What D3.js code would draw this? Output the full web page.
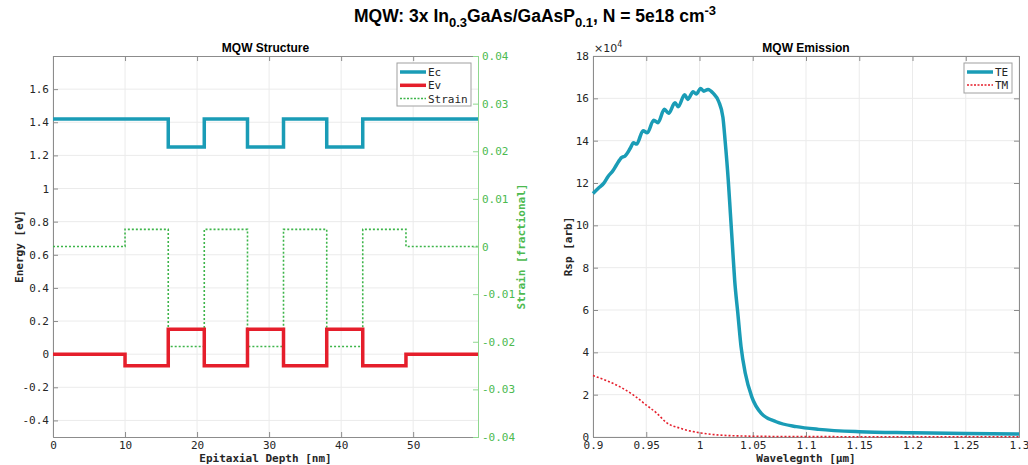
<!DOCTYPE html>
<html>
<head>
<meta charset="utf-8">
<script src="https://cdn.jsdelivr.net/npm/d3@7"></script>
<style>
    body { margin: 0; background: #fff; }
    svg text { font-family: "DejaVu Sans Mono", monospace; }
</style>
</head>
<body>
<div class="data_figure"></div>
<script>
// layer structure (nm) and band / strain values per layer
const layerEdges = [0, 10, 16, 21, 27, 32, 38, 43, 49, 59];
const ecVals = [1.42, 1.42, 1.25, 1.42, 1.25, 1.42, 1.25, 1.42, 1.42];
const evVals = [0, -0.07, 0.15, -0.07, 0.15, -0.07, 0.15, -0.07, 0];
const strainVals = [0, 0.0036, -0.021, 0.0036, -0.021, 0.0036, -0.021, 0.0036, 0];

// emission spectra (x1e4)
const teLambda = [0.9, 0.905, 0.91, 0.914, 0.919, 0.922, 0.927, 0.930, 0.935, 0.938, 0.941, 0.947, 0.951,
    0.957, 0.961, 0.967, 0.971, 0.977, 0.980, 0.986, 0.989, 0.994, 0.997, 1.001, 1.004, 1.008, 1.013,
    1.018, 1.022, 1.024, 1.027, 1.029, 1.031, 1.033, 1.036, 1.039, 1.043, 1.049, 1.058, 1.072, 1.091,
    1.112, 1.15, 1.2, 1.25, 1.3];
const teVals = [11.5, 11.75, 11.98, 12.3, 12.6, 12.85, 13.21, 13.27, 13.64, 13.9, 13.84, 14.47, 14.37,
    14.97, 14.85, 15.48, 15.29, 15.79, 15.6, 16.17, 15.95, 16.31, 16.2, 16.47, 16.34, 16.42, 16.23,
    15.85, 15.1, 14.03, 12.14, 10.57, 8.99, 7.42, 5.84, 4.27, 3.01, 1.91, 1.12, 0.72, 0.49,
    0.36, 0.25, 0.2, 0.16, 0.14];
const tmLambda = [0.9, 0.913, 0.925, 0.938, 0.95, 0.96, 0.969, 0.982, 1.0, 1.019, 1.038, 1.06, 1.1, 1.2, 1.3];
const tmVals = [2.9, 2.66, 2.38, 1.98, 1.51, 1.12, 0.68, 0.41, 0.2, 0.09, 0.05, 0.03, 0.02, 0.01, 0.01];

const energyTicks = [-0.4, -0.2, 0, 0.2, 0.4, 0.6, 0.8, 1, 1.2, 1.4, 1.6];
const strainTicks = [-0.04, -0.03, -0.02, -0.01, 0, 0.01, 0.02, 0.03, 0.04];
const depthTicks = [0, 10, 20, 30, 40, 50];
const lambdaTicks = [0.9, 0.95, 1, 1.05, 1.1, 1.15, 1.2, 1.25, 1.3];
const rspTicks = [0, 2, 4, 6, 8, 10, 12, 14, 16, 18];

const widthMax = 1028, heightMax = 465;
const plotTop = 56, plotBottom = 437;
const leftP = { x0: 53, x1: 478 };
const rightP = { x0: 593, x1: 1019 };

const cTeal = "#1a9cb6", cRed = "#e51e2b", cGreen = "#3db54a";
const cAxis = "#8c8c8c", cGrid = "#ebebeb", cText = "#262626", cGreenAxis = "#8fd88f";

const svg = d3.select(".data_figure").append("svg")
    .attr("width", widthMax).attr("height", heightMax);

// main title
const title = svg.append("text")
    .attr("x", 535).attr("y", 22)
    .attr("text-anchor", "middle")
    .style("font-family", "'Liberation Sans', Arial, sans-serif")
    .style("font-weight", "bold").style("font-size", "17.5px").attr("fill", "#000");
title.append("tspan").text("MQW: 3x In");
title.append("tspan").text("0.3").attr("dy", 5).style("font-size", "13px");
title.append("tspan").text("GaAs/GaAsP").attr("dy", -5);
title.append("tspan").text("0.1").attr("dy", 5).style("font-size", "13px");
title.append("tspan").text(", N = 5e18 cm").attr("dy", -5);
title.append("tspan").text("-3").attr("dy", -7).style("font-size", "13px");

function drawFrame(g, xS, yS, xTicks, yTicks, xFmt, yFmt, rightAxis) {
    const [x0, x1] = xS.range();
    // grid
    g.append("g").selectAll("line").data(xTicks).enter().append("line")
        .attr("x1", d => xS(d)).attr("x2", d => xS(d))
        .attr("y1", plotTop).attr("y2", plotBottom)
        .attr("stroke", cGrid);
    g.append("g").selectAll("line").data(yTicks).enter().append("line")
        .attr("x1", x0).attr("x2", x1)
        .attr("y1", d => yS(d)).attr("y2", d => yS(d))
        .attr("stroke", cGrid);

    const ax = g.append("g").attr("class", "axes");
    const bottom = ax.append("g").attr("transform", "translate(0," + plotBottom + ")")
        .call(d3.axisBottom(xS).tickValues(xTicks).tickFormat(xFmt).tickSize(-5).tickPadding(4));
    const top = ax.append("g").attr("transform", "translate(0," + plotTop + ")")
        .call(d3.axisTop(xS).tickValues(xTicks).tickFormat("").tickSize(-5));
    const left = ax.append("g").attr("transform", "translate(" + x0 + ",0)")
        .call(d3.axisLeft(yS).tickValues(yTicks).tickFormat(yFmt).tickSize(-5).tickPadding(4));
    [bottom, top, left].forEach(a => {
        a.select(".domain").attr("stroke", cAxis);
        a.selectAll(".tick line").attr("stroke", cAxis);
        a.selectAll("text").attr("fill", cText).style("font-size", "11px");
    });
    if (rightAxis) {
        const right = ax.append("g").attr("transform", "translate(" + x1 + ",0)")
            .call(d3.axisRight(yS).tickValues(yTicks).tickFormat("").tickSize(-5));
        right.select(".domain").attr("stroke", cAxis);
        right.selectAll(".tick line").attr("stroke", cAxis);
    }
}

const fmt = d => String(d);

// ---------- left: structure ----------
const gL = svg.append("g");
const xDepth = d3.scaleLinear().domain([0, 59]).range([leftP.x0, leftP.x1]);
const yEnergy = d3.scaleLinear().domain([-0.5, 1.8]).range([plotBottom, plotTop]);
const yStrain = d3.scaleLinear().domain([-0.04, 0.04]).range([plotBottom, plotTop]);

drawFrame(gL, xDepth, yEnergy, depthTicks, energyTicks, fmt, fmt, false);

function stepPoints(vals) {
    const pts = vals.map((v, i) => [layerEdges[i], v]);
    pts.push([layerEdges[layerEdges.length - 1], vals[vals.length - 1]]);
    return pts;
}

const strainLine = d3.line().x(d => xDepth(d[0])).y(d => yStrain(d[1])).curve(d3.curveStepAfter);
const energyLine = d3.line().x(d => xDepth(d[0])).y(d => yEnergy(d[1])).curve(d3.curveStepAfter);

gL.append("path").attr("d", strainLine(stepPoints(strainVals)))
    .attr("fill", "none").attr("stroke", cGreen).attr("stroke-width", 1.6)
    .attr("stroke-dasharray", "2,2");
gL.append("path").attr("d", energyLine(stepPoints(ecVals)))
    .attr("fill", "none").attr("stroke", cTeal).attr("stroke-width", 3.5);
gL.append("path").attr("d", energyLine(stepPoints(evVals)))
    .attr("fill", "none").attr("stroke", cRed).attr("stroke-width", 3.5);

// strain axis (right, green)
const sAx = gL.append("g").attr("transform", "translate(" + leftP.x1 + ",0)")
    .call(d3.axisRight(yStrain).tickValues(strainTicks).tickFormat(fmt).tickSize(-5).tickPadding(4));
sAx.select(".domain").attr("stroke", cGreenAxis);
sAx.selectAll(".tick line").attr("stroke", cGreenAxis);
sAx.selectAll("text").attr("fill", "#4cba50").style("font-size", "11px");

gL.append("text").text("MQW Structure")
    .attr("x", (leftP.x0 + leftP.x1) / 2).attr("y", 52).attr("text-anchor", "middle")
    .style("font-family", "'Liberation Sans', Arial, sans-serif")
    .style("font-weight", "bold").style("font-size", "12px").attr("fill", "#000");
gL.append("text").text("Epitaxial Depth [nm]")
    .attr("x", (leftP.x0 + leftP.x1) / 2).attr("y", 462).attr("text-anchor", "middle")
    .style("font-weight", "bold").style("font-size", "11px").attr("fill", cText);
gL.append("text").text("Energy [eV]")
    .attr("transform", "translate(23," + (plotTop + plotBottom) / 2 + ") rotate(-90)")
    .attr("text-anchor", "middle")
    .style("font-weight", "bold").style("font-size", "11px").attr("fill", cText);
gL.append("text").text("Strain [fractional]")
    .attr("transform", "translate(525," + (plotTop + plotBottom) / 2 + ") rotate(-90)")
    .attr("text-anchor", "middle")
    .style("font-weight", "bold").style("font-size", "11px").attr("fill", "#4cba50");

// left legend
const legL = gL.append("g").attr("transform", "translate(397,63)");
legL.append("rect").attr("width", 74).attr("height", 43)
    .attr("fill", "#fff").attr("stroke", "#a0a0a0");
const legLItems = [
    { name: "Ec", color: cTeal, w: 3.5, dash: null },
    { name: "Ev", color: cRed, w: 3.5, dash: null },
    { name: "Strain", color: cGreen, w: 1.5, dash: "2,1.5" }];
legLItems.forEach((d, i) => {
    const y = 9 + i * 13.3;
    legL.append("line").attr("x1", 3).attr("x2", 29).attr("y1", y).attr("y2", y)
        .attr("stroke", d.color).attr("stroke-width", d.w).attr("stroke-dasharray", d.dash);
    legL.append("text").text(d.name).attr("x", 31).attr("y", y + 4)
        .style("font-size", "11px").attr("fill", cText);
});

// ---------- right: emission ----------
const gR = svg.append("g");
const xLam = d3.scaleLinear().domain([0.9, 1.3]).range([rightP.x0, rightP.x1]);
const yRsp = d3.scaleLinear().domain([0, 18]).range([plotBottom, plotTop]);

drawFrame(gR, xLam, yRsp, lambdaTicks, rspTicks, fmt, fmt, true);

const specLine = d3.line().x(d => xLam(d[0])).y(d => yRsp(d[1])).curve(d3.curveMonotoneX);
gR.append("path").attr("d", specLine(tmLambda.map((l, i) => [l, tmVals[i]])))
    .attr("fill", "none").attr("stroke", cRed).attr("stroke-width", 1.6)
    .attr("stroke-dasharray", "2,2");
gR.append("path").attr("d", specLine(teLambda.map((l, i) => [l, teVals[i]])))
    .attr("fill", "none").attr("stroke", cTeal).attr("stroke-width", 3.5)
    .attr("stroke-linejoin", "round");

const exp = gR.append("text").attr("x", rightP.x0 + 1).attr("y", 52)
    .style("font-family", "'DejaVu Sans', sans-serif").style("font-size", "11px").attr("fill", cText);
exp.append("tspan").text("\u00d710");
exp.append("tspan").text("4").attr("dy", -5).style("font-size", "8px");

gR.append("text").text("MQW Emission")
    .attr("x", (rightP.x0 + rightP.x1) / 2).attr("y", 52).attr("text-anchor", "middle")
    .style("font-family", "'Liberation Sans', Arial, sans-serif")
    .style("font-weight", "bold").style("font-size", "12px").attr("fill", "#000");
gR.append("text").text("Wavelegnth [\u03bcm]")
    .attr("x", (rightP.x0 + rightP.x1) / 2).attr("y", 462).attr("text-anchor", "middle")
    .style("font-weight", "bold").style("font-size", "11px").attr("fill", cText);
gR.append("text").text("Rsp [arb]")
    .attr("transform", "translate(572," + (plotTop + plotBottom) / 2 + ") rotate(-90)")
    .attr("text-anchor", "middle")
    .style("font-weight", "bold").style("font-size", "11px").attr("fill", cText);

const legR = gR.append("g").attr("transform", "translate(964,63)");
legR.append("rect").attr("width", 48).attr("height", 30)
    .attr("fill", "#fff").attr("stroke", "#a0a0a0");
[{ name: "TE", color: cTeal, w: 3.5, dash: null },
 { name: "TM", color: cRed, w: 1.5, dash: "2,1.5" }].forEach((d, i) => {
    const y = 9 + i * 13;
    legR.append("line").attr("x1", 3).attr("x2", 29).attr("y1", y).attr("y2", y)
        .attr("stroke", d.color).attr("stroke-width", d.w).attr("stroke-dasharray", d.dash);
    legR.append("text").text(d.name).attr("x", 31).attr("y", y + 4)
        .style("font-size", "11px").attr("fill", cText);
});
</script>
</body>
</html>
